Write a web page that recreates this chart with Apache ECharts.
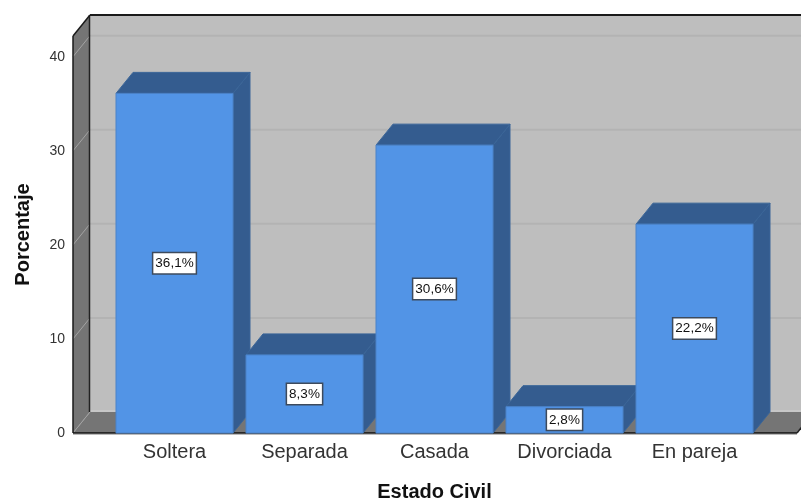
<!DOCTYPE html>
<html>
<head>
<meta charset="utf-8">
<style>html,body{margin:0;padding:0;background:#fff}#c{width:801px;height:500px}</style>
<script src="https://cdn.jsdelivr.net/npm/echarts@6/dist/echarts.min.js"></script>
</head>
<body>
<div id="c"></div>
<script>
const categories = ['Soltera', 'Separada', 'Casada', 'Divorciada', 'En pareja'];
const percentages = [36.1, 8.3, 30.6, 2.8, 22.2];
const percentLabels = ['36,1%', '8,3%', '30,6%', '2,8%', '22,2%'];
const yTicks = [0, 10, 20, 30, 40];
const xTitle = 'Estado Civil';
const yTitle = 'Porcentaje';

const DX = 17, DY = -21;          // depth of the 3D box
const LEFT = 73, RIGHT = 797;     // front plane extent
const FF = '"Liberation Sans", Arial, sans-serif';

const chart = echarts.init(document.getElementById('c'), null, {renderer: 'canvas'});

function poly(points, fill, stroke, lw) {
  return {type: 'polygon', shape: {points}, style: {fill, stroke: stroke || null, lineWidth: lw || 0}};
}
function line(x1, y1, x2, y2, stroke, lw) {
  return {type: 'line', shape: {x1, y1, x2, y2}, style: {stroke, lineWidth: lw || 1}};
}

function renderBox(params, api) {
  const yMax = api.coord([0, 42.2])[1];
  const y0 = api.coord([0, 0])[1];
  const L = LEFT, R = RIGHT;
  const ch = [
    poly([[L + DX, yMax + DY], [R + DX, yMax + DY], [R + DX, y0 + DY], [L + DX, y0 + DY]], '#bebebe'),
    poly([[L, yMax], [L + DX, yMax + DY], [L + DX, y0 + DY], [L, y0]], '#757575'),
    poly([[L, y0], [L + DX, y0 + DY], [R + DX, y0 + DY], [R, y0]], '#757575')
  ];
  yTicks.forEach(function (t) {
    const y = api.coord([0, t])[1];
    if (t > 0) ch.push(line(L + DX, y + DY, R + DX, y + DY, '#b3b3b3', 2));
    ch.push(line(L, y, L + DX, y + DY, '#a3a3a3', 1));
  });
  ch.push(line(L + DX, y0 + DY - 1, R + DX, y0 + DY - 1, '#d0d0d0', 1));
  ch.push(line(L + DX, yMax + DY, R + DX, yMax + DY, '#1a1a1a', 2));
  ch.push(line(L + DX - 0.5, yMax + DY, L + DX - 0.5, y0 + DY, '#222222', 1.5));
  ch.push(line(L, yMax, L + DX, yMax + DY, '#1a1a1a', 1.5));
  ch.push(line(L, yMax, L, y0, '#1a1a1a', 1.5));
  ch.push(line(L, y0, R, y0, '#111111', 1.5));
  ch.push(line(L, y0 + 1.5, R, y0 + 1.5, '#bbbbbb', 1));
  ch.push(line(R, y0, R + DX, y0 + DY, '#222222', 1.5));
  return {type: 'group', children: ch};
}

function renderBar(params, api) {
  const i = api.value(0);
  const v = api.value(1);
  const p = api.coord([i, v]);
  const b = api.coord([i, 0]);
  const w = api.size([1, 0])[0] * 0.9;
  const x0 = p[0] - w / 2, x1 = p[0] + w / 2, top = p[1], bot = b[1];
  const dark = '#345c8f';
  return {
    type: 'group',
    children: [
      poly([[x1, top], [x1 + DX, top + DY], [x1 + DX, bot + DY], [x1, bot]], dark, '#3a6598', 1),
      poly([[x0, top], [x0 + DX, top + DY], [x1 + DX, top + DY], [x1, top]], dark, '#3a6598', 1),
      {type: 'rect', shape: {x: x0, y: top, width: w, height: bot - top},
        style: {fill: '#5294e6', stroke: '#4a82c8', lineWidth: 1}},
      {type: 'text', z2: 10, style: {
        text: percentLabels[i], x: p[0], y: (top + bot) / 2,
        align: 'center', verticalAlign: 'middle',
        font: '13.5px ' + FF, fill: '#111',
        backgroundColor: '#fff', borderColor: '#3d4a5c', borderWidth: 1.5,
        padding: [3, 2, 3, 2]
      }}
    ]
  };
}

chart.setOption({
  animation: false,
  backgroundColor: '#fff',
  grid: {left: 109.5, width: 650, top: 36, height: 397, containLabel: false, outerBoundsMode: 'none'},
  xAxis: {
    type: 'category', data: categories,
    axisLine: {show: false}, axisTick: {show: false},
    axisLabel: {fontFamily: FF, fontSize: 20, color: '#333', margin: 9},
    name: xTitle, nameLocation: 'middle', nameGap: 49,
    nameTextStyle: {fontFamily: FF, fontSize: 20, fontWeight: 'bold', color: '#111'}
  },
  yAxis: {
    type: 'value', min: 0, max: 42.2, interval: 10, offset: 36.5,
    splitLine: {show: false}, axisLine: {show: false}, axisTick: {show: false},
    axisLabel: {fontFamily: FF, fontSize: 14, color: '#333', margin: 8, showMaxLabel: false},
    name: yTitle, nameLocation: 'middle', nameGap: 40, nameRotate: 90,
    nameTextStyle: {fontFamily: FF, fontSize: 20, fontWeight: 'bold', color: '#111'}
  },
  series: [
    {type: 'custom', silent: true, z: 1, renderItem: renderBox, data: [[0, 0]], clip: false},
    {type: 'custom', silent: true, z: 2, renderItem: renderBar, clip: false,
      encode: {x: 0, y: 1},
      data: percentages.map(function (v, i) { return [i, v]; })}
  ]
});
</script>
</body>
</html>
